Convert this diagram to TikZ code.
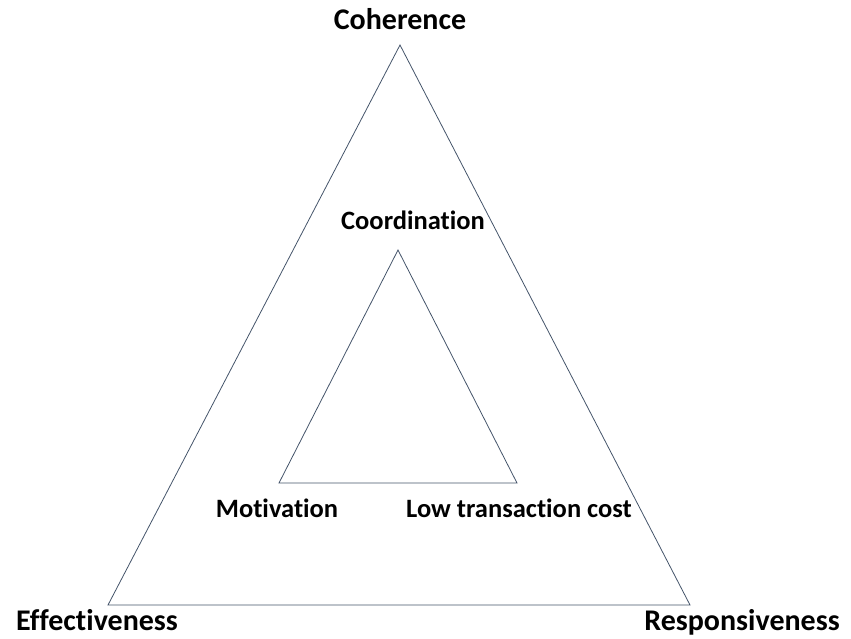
\documentclass[tikz,border=0pt]{standalone}
\usepackage{fontspec}
\setmainfont[Ligatures={NoCommon}]{Carlito}
\definecolor{edge}{RGB}{68,84,106}
\begin{document}
\begin{tikzpicture}[x=1pt,y=-1pt,
  tri/.style={draw=edge,line width=0.8pt,line join=miter},
  outerlbl/.style={font=\bfseries\fontsize{30}{36}\selectfont,text=black,inner sep=0pt,anchor=base},
  innerlbl/.style={font=\bfseries\fontsize{26.5}{32}\selectfont,text=black,inner sep=0pt,anchor=base}]
\useasboundingbox (0,0) rectangle (851,638);
% outer triangle
\coordinate (oA) at (400,45);
\coordinate (oL) at (108,605);
\coordinate (oR) at (690,605);
\draw[tri] (oA) -- (oL) -- (oR) -- cycle;
% inner triangle
\coordinate (iA) at (398,250);
\coordinate (iL) at (279,483);
\coordinate (iR) at (517,483);
\draw[tri] (iA) -- (iL) -- (iR) -- cycle;
% corner labels of the outer triangle
\node[outerlbl] (coh) at (400,29) {Coherence};
\node[outerlbl] (eff) at (97,630) {Effectiveness};
\node[outerlbl] (res) at (742,630) {Responsiveness};
% corner labels of the inner triangle
\node[innerlbl] (coo) at (413,229) {Coordination};
\node[innerlbl] (mot) at (277,517) {Motivation};
\node[innerlbl] (ltc) at (519,517) {Low transaction cost};
\end{tikzpicture}
\end{document}
